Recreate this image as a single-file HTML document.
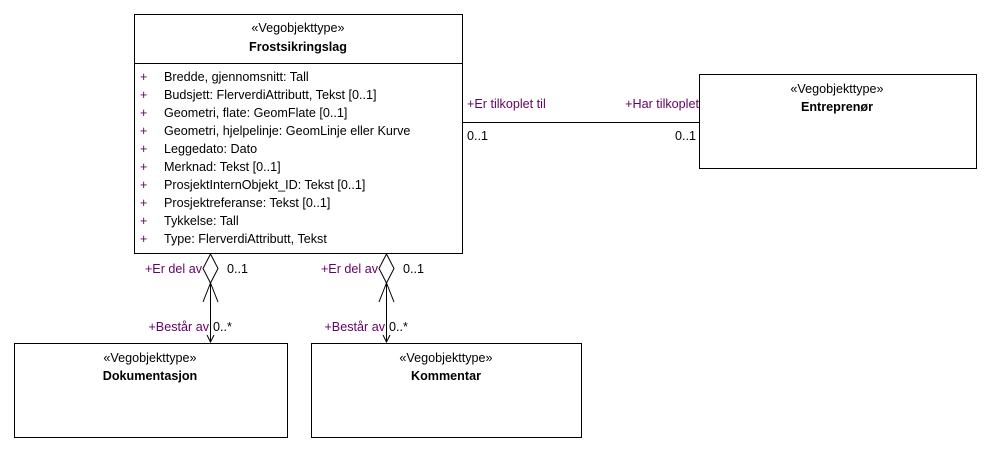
<!DOCTYPE html>
<html><head><style>
body{margin:0;background:#fff;}
svg text{font-family:"Liberation Sans",sans-serif;font-size:12.6px;fill:#000;}
.b{font-weight:bold;}
.p{fill:#660066;}
</style></head><body>
<svg width="991" height="453" xmlns="http://www.w3.org/2000/svg">
<g fill="#fff" stroke="#000" stroke-width="1">
<rect x="134.5" y="14.5" width="328" height="239"/>
<line x1="134" y1="63.5" x2="462" y2="63.5"/>
<rect x="699.5" y="74.5" width="277" height="94"/>
<rect x="14.5" y="343.5" width="273" height="94"/>
<rect x="311.5" y="343.5" width="270" height="94"/>
</g>
<text x="298" y="32" text-anchor="middle">«Vegobjekttype»</text>
<text x="298" y="51" text-anchor="middle" class="b">Frostsikringslag</text>
<g>
<text x="140" y="81" class="p">+</text><text x="164" y="81">Bredde, gjennomsnitt: Tall</text>
<text x="140" y="99" class="p">+</text><text x="164" y="99">Budsjett: FlerverdiAttributt, Tekst [0..1]</text>
<text x="140" y="117" class="p">+</text><text x="164" y="117">Geometri, flate: GeomFlate [0..1]</text>
<text x="140" y="135" class="p">+</text><text x="164" y="135">Geometri, hjelpelinje: GeomLinje eller Kurve</text>
<text x="140" y="153" class="p">+</text><text x="164" y="153">Leggedato: Dato</text>
<text x="140" y="171" class="p">+</text><text x="164" y="171">Merknad: Tekst [0..1]</text>
<text x="140" y="189" class="p">+</text><text x="164" y="189">ProsjektInternObjekt_ID: Tekst [0..1]</text>
<text x="140" y="207" class="p">+</text><text x="164" y="207">Prosjektreferanse: Tekst [0..1]</text>
<text x="140" y="225" class="p">+</text><text x="164" y="225">Tykkelse: Tall</text>
<text x="140" y="243" class="p">+</text><text x="164" y="243">Type: FlerverdiAttributt, Tekst</text>
</g>
<text x="837" y="93" text-anchor="middle">«Vegobjekttype»</text>
<text x="837" y="111" text-anchor="middle" class="b">Entreprenør</text>
<text x="150" y="362" text-anchor="middle">«Vegobjekttype»</text>
<text x="150" y="380" text-anchor="middle" class="b">Dokumentasjon</text>
<text x="446" y="362" text-anchor="middle">«Vegobjekttype»</text>
<text x="446" y="380" text-anchor="middle" class="b">Kommentar</text>
<g stroke="#000" fill="none">
<line x1="462" y1="122.5" x2="699" y2="122.5"/>
<g id="a">
<polygon points="210.5,254 218,268.5 210.5,283 203,268.5" fill="#fff"/>
<line x1="210.5" y1="283" x2="210.5" y2="342"/>
<polyline points="203,302 210.5,283 218,302"/>
<polyline points="207,335 210.5,342 214,335"/>
</g>
<use href="#a" x="176"/>
</g>
<text x="467" y="108" class="p">+Er tilkoplet til</text>
<text x="467" y="140">0..1</text>
<text x="699" y="108" text-anchor="end" class="p">+Har tilkoplet</text>
<text x="696" y="140" text-anchor="end">0..1</text>
<text x="202" y="273" text-anchor="end" class="p">+Er del av</text>
<text x="227" y="273">0..1</text>
<text x="209" y="331" text-anchor="end" class="p">+Består av</text>
<text x="213" y="331">0..*</text>
<text x="378" y="273" text-anchor="end" class="p">+Er del av</text>
<text x="403" y="273">0..1</text>
<text x="385" y="331" text-anchor="end" class="p">+Består av</text>
<text x="389" y="331">0..*</text>
</svg>
</body></html>
